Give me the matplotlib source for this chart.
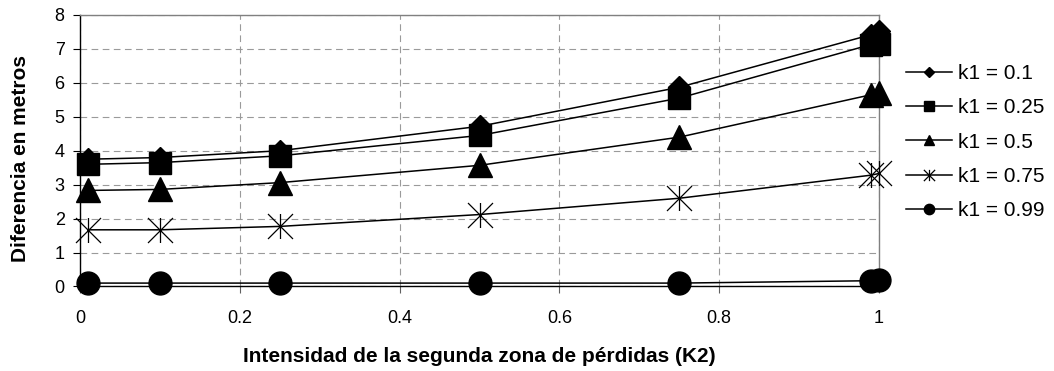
import matplotlib
matplotlib.use("Agg")
import matplotlib.pyplot as plt
from matplotlib.path import Path
from matplotlib.ticker import MultipleLocator, FixedLocator

plt.rcParams['font.family'] = ['Liberation Sans', 'DejaVu Sans']

# Intensity of the second loss zone (K2)
k2 = [0.01, 0.1, 0.25, 0.5, 0.75, 0.99, 1.0]

# Difference in metres for each k1
k1_010 = [3.75, 3.80, 4.00, 4.72, 5.87, 7.42, 7.52]
k1_025 = [3.60, 3.65, 3.85, 4.45, 5.55, 7.13, 7.15]
k1_050 = [2.83, 2.86, 3.06, 3.57, 4.40, 5.65, 5.70]
k1_075 = [1.67, 1.67, 1.77, 2.12, 2.60, 3.28, 3.33]
k1_099 = [0.10, 0.10, 0.10, 0.10, 0.10, 0.17, 0.18]

labels = ["k1 = 0.1", "k1 = 0.25", "k1 = 0.5", "k1 = 0.75", "k1 = 0.99"]
series = [k1_010, k1_025, k1_050, k1_075, k1_099]

# asterisk marker: vertical stroke plus two diagonals
asterisk = Path(
    [(0, -1), (0, 1), (-1, -1), (1, 1), (-1, 1), (1, -1)],
    [Path.MOVETO, Path.LINETO, Path.MOVETO, Path.LINETO, Path.MOVETO, Path.LINETO],
)

styles = [
    dict(marker="D", markersize=11.5),
    dict(marker="s", markersize=16),
    dict(marker="^", markersize=17),
    dict(marker=asterisk, markersize=18, markeredgewidth=0.9, markerfacecolor="none"),
    dict(marker="o", markersize=16.5),
]

fig = plt.figure(figsize=(10.54, 3.71), dpi=100)
ax = fig.add_axes([0.0759, 0.2278, 0.7581, 0.7318])

for i, (vals, lab, st) in enumerate(zip(series, labels, styles)):
    kw = dict(color="black", linewidth=1.1, markeredgecolor="black",
              markerfacecolor="black", zorder=3 + i, clip_on=False)
    kw.update(st)
    ax.plot(k2, vals, label=lab, **kw)

ax.set_xlim(0, 1)
ax.set_ylim(0, 8)
ax.xaxis.set_major_locator(FixedLocator([0, 0.2, 0.4, 0.6, 0.8, 1.0]))
ax.set_xticklabels(["0", "0.2", "0.4", "0.6", "0.8", "1"])
ax.yaxis.set_major_locator(MultipleLocator(1))

ax.grid(True, color="#9a9a9a", linestyle=(0, (6, 4)), linewidth=0.8)
ax.set_axisbelow(True)

for side in ("top", "right"):
    ax.spines[side].set_color("#808080")
    ax.spines[side].set_linewidth(1.0)
for side in ("left", "bottom"):
    ax.spines[side].set_color("black")
    ax.spines[side].set_linewidth(1.0)

ax.tick_params(axis="both", direction="out", length=5, width=0.8,
               labelsize=13, colors="black")
ax.tick_params(axis="x", pad=12, color="#606060")
ax.tick_params(axis="y", pad=6)

ax.set_ylabel("Diferencia en metros", fontsize=15, fontweight="bold")
ax.yaxis.set_label_coords(-0.062, 0.47)
ax.set_xlabel("Intensidad de la segunda zona de pérdidas (K2)", fontsize=15,
              fontweight="bold", labelpad=14)

fig.legend(loc="upper left", bbox_to_anchor=(0.8597, 0.827), frameon=False,
           fontsize=15, markerscale=0.45, handlelength=2.2, handletextpad=0.3,
           labelspacing=0.73, borderpad=0, borderaxespad=0)

fig.savefig("out.png", dpi=100)
